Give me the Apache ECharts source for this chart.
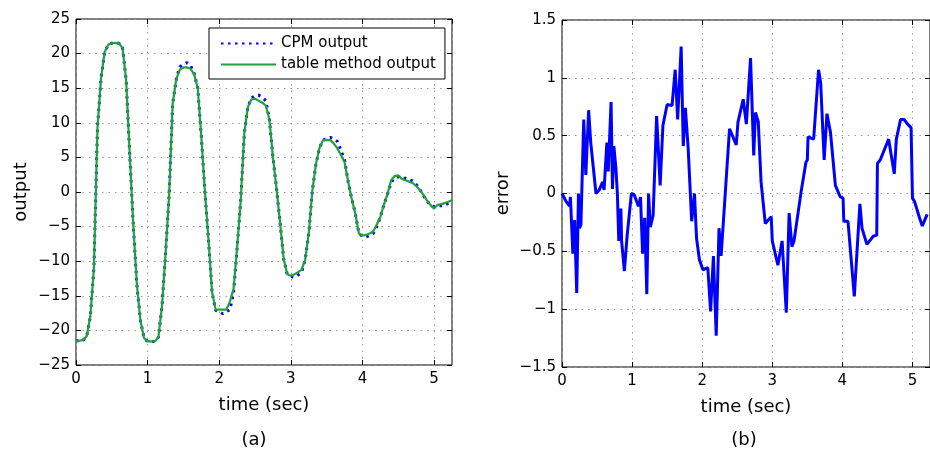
<!DOCTYPE html>
<html>
<head>
<meta charset="utf-8">
<script src="https://cdn.jsdelivr.net/npm/echarts@6/dist/echarts.min.js"></script>
<style>html,body{margin:0;padding:0;background:#fff}#c{width:930px;height:451px}</style>
</head>
<body>
<div id="c"></div>
<script>
// ---- Panel (a): output vs time ----
const timeA = [0.00,0.05,0.10,0.15,0.20,0.25,0.30,0.35,0.40,0.45,0.50,0.55,0.60,0.65,0.70,0.75,0.80,0.85,0.90,0.95,
  1.00,1.05,1.10,1.15,1.20,1.25,1.30,1.35,1.40,1.45,1.50,1.55,1.60,1.65,1.70,1.75,1.80,1.85,1.90,1.95,
  2.00,2.05,2.10,2.15,2.20,2.25,2.30,2.35,2.40,2.45,2.50,2.55,2.60,2.65,2.70,2.75,2.80,2.85,2.90,2.95,
  3.00,3.05,3.10,3.15,3.20,3.25,3.30,3.35,3.40,3.45,3.50,3.55,3.60,3.65,3.70,3.75,3.80,3.85,3.90,3.95,
  4.00,4.05,4.10,4.15,4.20,4.25,4.30,4.35,4.40,4.45,4.50,4.55,4.60,4.65,4.70,4.75,4.80,4.85,4.90,4.95,
  5.00,5.05,5.10,5.15,5.20,5.25];
const tableOutput = [-21.5,-21.5,-21.4,-20.8,-18.0,-11.0,9.3,16.5,20.2,21.3,21.5,21.5,21.5,20.8,16.2,5.5,-4.8,-13.4,-18.6,-21.1,
  -21.6,-21.6,-21.6,-21.0,-16.6,-9.0,-0.5,12.8,16.3,17.7,18.0,18.0,17.8,17.0,15.0,8.0,0.0,-6.9,-14.5,-17.0,
  -17.0,-17.0,-17.0,-15.8,-14.0,-8.0,-1.2,8.5,12.3,13.4,13.5,13.2,12.9,12.5,10.5,5.0,0.5,-4.5,-9.7,-11.9,
  -12.1,-11.9,-11.6,-11.2,-9.8,-6.0,0.2,4.0,6.4,7.5,7.5,7.5,7.0,6.3,5.3,4.3,1.5,-1.0,-3.1,-6.0,
  -6.3,-6.2,-6.0,-5.7,-4.7,-3.6,-1.8,-0.3,1.7,2.3,2.4,1.9,1.7,1.5,1.3,0.9,0.3,-0.4,-1.2,-1.9,
  -2.4,-1.85,-1.75,-1.6,-1.4,-1.2];
const cpmOutput = [-21.5,-21.5,-21.4,-20.8,-18.0,-11.0,9.3,16.5,20.2,21.3,21.5,21.5,21.5,20.8,16.2,5.5,-4.8,-13.4,-18.6,-21.1,
  -21.6,-21.6,-21.6,-21.0,-16.6,-9.0,-0.5,12.8,16.3,18.1,18.4,18.7,18.3,17.1,15.0,8.0,0.0,-6.9,-14.5,-17.1,
  -17.3,-17.6,-17.3,-17.0,-14.5,-8.0,-1.2,8.5,12.3,13.6,13.9,14.0,13.7,13.2,10.5,5.0,0.5,-4.5,-9.7,-11.9,
  -12.2,-12.3,-12.0,-11.6,-9.8,-6.0,0.2,4.0,6.4,7.5,7.7,7.9,7.7,7.3,6.0,4.6,1.5,-1.0,-3.1,-6.0,
  -6.4,-6.5,-6.3,-6.0,-5.0,-3.6,-1.8,-0.3,1.4,2.0,2.2,2.0,2.0,1.8,1.6,1.1,0.4,-0.5,-1.3,-1.9,
  -2.1,-2.0,-2.0,-1.9,-1.6,-1.2];

// ---- Panel (b): error vs time ----
const timeB = [0,0.06,0.108,0.12,0.155,0.18,0.21,0.235,0.25,0.27,0.31,0.34,0.38,0.41,0.485,0.53,0.58,0.60,0.64,0.66,
  0.70,0.72,0.74,0.77,0.79,0.81,0.84,0.85,0.89,0.93,0.99,1.03,1.09,1.12,1.15,1.18,1.21,1.235,1.26,1.30,
  1.35,1.40,1.44,1.50,1.57,1.615,1.65,1.70,1.73,1.76,1.80,1.85,1.89,1.92,1.96,2.01,2.08,2.12,2.16,2.20,
  2.24,2.27,2.34,2.39,2.486,2.51,2.585,2.63,2.69,2.735,2.76,2.80,2.84,2.90,2.985,3.0,3.08,3.10,3.14,3.20,
  3.24,3.28,3.31,3.41,3.48,3.50,3.51,3.59,3.66,3.69,3.74,3.78,3.83,3.90,3.97,4.01,4.02,4.08,4.17,4.25,
  4.28,4.35,4.44,4.49,4.50,4.54,4.66,4.74,4.77,4.83,4.88,4.93,4.98,5.00,5.03,5.10,5.14,5.21];
const errorVals = [0,-0.07,-0.11,-0.03,-0.52,-0.23,-0.86,0.0,-0.30,-0.27,0.64,0.16,0.72,0.44,0.0,0.03,0.10,0.03,0.44,0.19,
  0.79,0.04,0.41,0.21,0.0,-0.41,-0.13,-0.41,-0.67,-0.36,0.0,-0.01,-0.11,-0.03,-0.52,-0.21,-0.87,0.0,-0.29,-0.19,
  0.67,0.07,0.59,0.77,0.76,1.07,0.64,1.27,0.41,0.74,0.39,-0.24,0.0,-0.39,-0.57,-0.66,-0.64,-1.02,-0.54,-1.23,
  -0.30,-0.54,0.10,0.56,0.42,0.615,0.815,0.60,1.17,0.33,0.70,0.62,0.10,-0.26,-0.20,-0.41,-0.62,-0.63,-0.41,-1.03,
  -0.17,-0.46,-0.41,0.01,0.27,0.29,0.49,0.47,1.07,0.96,0.29,0.69,0.53,0.07,-0.03,-0.04,-0.24,-0.24,-0.89,-0.09,
  -0.30,-0.44,-0.37,-0.36,0.26,0.29,0.47,0.17,0.47,0.64,0.64,0.60,0.57,-0.04,-0.07,-0.21,-0.28,-0.18];

const xTicks = [0,1,2,3,4,5];
const seriesNames = ['CPM output','table method output'];

const FONT = 'DejaVu Sans';
const minus = v => String(v).replace('-', '\u2212');
const gridLine = {show:true, lineStyle:{color:'#9a9a9a', type:[1.5,5], width:1}};
const tick = {show:true, inside:true, length:5, lineStyle:{color:'#000', width:1}};

function xAx(gi, pos, main, name) {
  return {
    type:'value', gridIndex:gi, position:pos, min:0, max:5.25, interval:1,
    axisLine:{show:false, onZero:false}, axisTick:tick,
    axisLabel:{show:main, showMaxLabel:false, margin:7, color:'#000', fontFamily:FONT, fontSize:15,
               formatter: v => xTicks.includes(v) ? String(v) : ''},
    splitLine: main ? gridLine : {show:false},
    name: main ? name : '', nameLocation:'middle', nameGap:31,
    nameTextStyle:{color:'#000', fontFamily:FONT, fontSize:18}
  };
}
function yAx(gi, pos, main, mn, mx, iv, name, gap) {
  return {
    type:'value', gridIndex:gi, position:pos, min:mn, max:mx, interval:iv,
    axisLine:{show:false, onZero:false}, axisTick:tick,
    axisLabel:{show:main, margin:6, color:'#000', fontFamily:FONT, fontSize:15, formatter:minus},
    splitLine: main ? gridLine : {show:false},
    name: main ? name : '', nameLocation:'middle', nameGap:gap,
    nameTextStyle:{color:'#000', fontFamily:FONT, fontSize:18}
  };
}

const chart = echarts.init(document.getElementById('c'), null, {renderer:'canvas'});
chart.setOption({
  animation:false,
  backgroundColor:'#fff',
  textStyle:{fontFamily:FONT},
  grid:[
    {left:76, top:19, width:376, height:346, show:true, borderColor:'#000', borderWidth:1, backgroundColor:'transparent'},
    {left:562, top:20, width:372, height:347, show:true, borderColor:'#000', borderWidth:1, backgroundColor:'transparent'}
  ],
  xAxis:[
    xAx(0,'bottom',true,'time (sec)'), xAx(0,'top',false,''),
    xAx(1,'bottom',true,'time (sec)'), xAx(1,'top',false,'')
  ],
  yAxis:[
    yAx(0,'left',true,-25,25,5,'output',46), yAx(0,'right',false,-25,25,5,'',0),
    yAx(1,'left',true,-1.5,1.5,0.5,'error',50), yAx(1,'right',false,-1.5,1.5,0.5,'',0)
  ],
  legend:{
    data:seriesNames, orient:'vertical', left:209, top:28,
    padding:[8,9,7,11], itemWidth:55, itemHeight:14, itemGap:6,
    borderColor:'#000', borderWidth:1, backgroundColor:'#fff',
    itemStyle:{opacity:0},
    textStyle:{color:'#000', fontFamily:FONT, fontSize:15},
    selectedMode:false
  },
  series:[
    {name:seriesNames[0], type:'line', xAxisIndex:0, yAxisIndex:0, symbol:'none',
     data: timeA.map((t,i)=>[t, cpmOutput[i]]),
     lineStyle:{color:'#0000ff', width:3, type:[2.5,4.5]}, itemStyle:{color:'#0000ff'}},
    {name:seriesNames[1], type:'line', xAxisIndex:0, yAxisIndex:0, symbol:'none',
     data: timeA.map((t,i)=>[t, tableOutput[i]]),
     lineStyle:{color:'#22a03c', width:2.2}, itemStyle:{color:'#22a03c'}},
    {name:'error', type:'line', xAxisIndex:2, yAxisIndex:2, symbol:'none',
     data: timeB.map((t,i)=>[t, errorVals[i]]),
     lineStyle:{color:'#0000ff', width:3}, itemStyle:{color:'#0000ff'}}
  ],
  graphic:[
    {type:'text', style:{text:'(a)', x:254, y:440, textAlign:'center', textVerticalAlign:'middle', font:'18px "DejaVu Sans"', fill:'#000'}},
    {type:'text', style:{text:'(b)', x:744, y:440, textAlign:'center', textVerticalAlign:'middle', font:'18px "DejaVu Sans"', fill:'#000'}}
  ]
});
</script>
</body>
</html>
